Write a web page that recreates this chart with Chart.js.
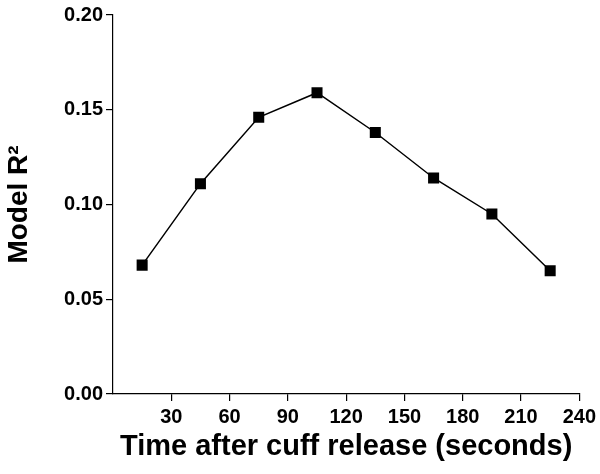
<!DOCTYPE html>
<html>
<head>
<meta charset="utf-8">
<script src="https://cdn.jsdelivr.net/npm/chart.js@4/dist/chart.umd.min.js"></script>
<style>
  html, body { margin: 0; padding: 0; background: #fff; }
  #wrap { width: 600px; height: 474px; }
</style>
</head>
<body>
<div id="wrap"><canvas id="grafico" width="600" height="474"></canvas></div>
<script>
// dados do grafico
var tempos = [15, 45, 75, 105, 135, 165, 195, 225];
var modeloR2 = [0.068, 0.111, 0.146, 0.159, 0.138, 0.114, 0.095, 0.065];
var ticksX = [30, 60, 90, 120, 150, 180, 210, 240];
var ticksY = [0, 0.05, 0.10, 0.15, 0.20];

window.onload = function(){
    var contexto = document.getElementById("grafico").getContext("2d");
    var fonte = "'Liberation Sans', Arial, sans-serif";
    var pontos = tempos.map(function(t, i){ return {x: t, y: modeloR2[i]}; });

    var grafico = new Chart(contexto, {
        type: 'line',
        data: {
            datasets: [{
                data: pontos,
                borderColor: '#000',
                backgroundColor: '#000',
                borderWidth: 1.5,
                pointStyle: 'rect',
                pointRadius: 7.8,
                pointBorderWidth: 0,
                fill: false,
                tension: 0
            }]
        },
        options: {
            responsive: false,
            animation: false,
            layout: { padding: { top: 15, right: 17, left: 0, bottom: 0 } },
            plugins: { legend: { display: false }, tooltip: { enabled: false } },
            scales: {
                x: {
                    type: 'linear',
                    min: 0,
                    max: 240,
                    afterBuildTicks: function(axis){
                        axis.ticks = ticksX.map(function(v){ return {value: v}; });
                    },
                    afterFit: function(axis){ axis.height = 80; },
                    grid: { display: true, drawOnChartArea: false, drawTicks: true, tickLength: 7, color: '#000', lineWidth: 1.2 },
                    border: { display: true, color: '#000', width: 1.2 },
                    ticks: { color: '#000', padding: 4, maxRotation: 0, font: { family: fonte, size: 20, weight: 'bold' } },
                    title: {
                        display: true,
                        text: 'Time after cuff release (seconds)',
                        color: '#000',
                        font: { family: fonte, size: 29, weight: 'bold' },
                        padding: { top: 0, bottom: 10 }
                    }
                },
                y: {
                    type: 'linear',
                    min: 0,
                    max: 0.20,
                    afterBuildTicks: function(axis){
                        axis.ticks = ticksY.map(function(v){ return {value: v}; });
                    },
                    afterFit: function(axis){ axis.width = 113; },
                    grid: { display: true, drawOnChartArea: false, drawTicks: true, tickLength: 7, color: '#000', lineWidth: 1.2 },
                    border: { display: true, color: '#000', width: 1.2 },
                    ticks: {
                        color: '#000', padding: 3,
                        font: { family: fonte, size: 20, weight: 'bold' },
                        callback: function(v){ return v.toFixed(2); }
                    },
                    title: {
                        display: true,
                        text: 'Model R²',
                        color: '#000',
                        font: { family: fonte, size: 28, weight: 'bold' },
                        padding: { top: 2, bottom: 0 }
                    }
                }
            }
        }
    });
}
</script>
</body>
</html>
